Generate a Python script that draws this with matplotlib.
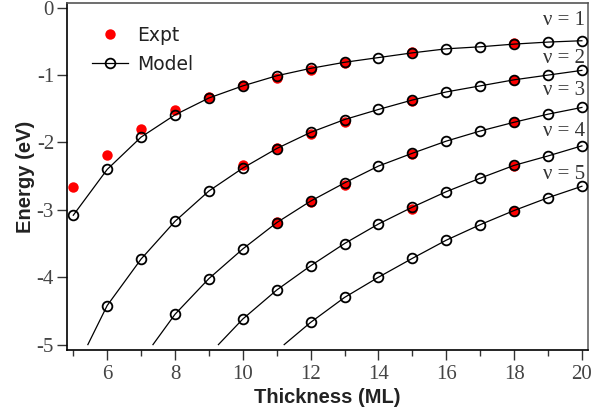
import matplotlib.pyplot as plt
import numpy as np

# thickness in monolayers
thick = np.arange(5, 21)

# model energies (eV) for each subband, first point is where the curve enters at -5 eV
model_x = {
    1: [5, 6, 7, 8, 9, 10, 11, 12, 13, 14, 15, 16, 17, 18, 19, 20],
    2: [5.43, 6, 7, 8, 9, 10, 11, 12, 13, 14, 15, 16, 17, 18, 19, 20],
    3: [7.35, 8, 9, 10, 11, 12, 13, 14, 15, 16, 17, 18, 19, 20],
    4: [9.28, 10, 11, 12, 13, 14, 15, 16, 17, 18, 19, 20],
    5: [11.22, 12, 13, 14, 15, 16, 17, 18, 19, 20],
}
model_e = {
    1: [-3.08, -2.40, -1.92, -1.59, -1.34, -1.16, -1.01, -0.90, -0.81, -0.74, -0.67, -0.61, -0.58, -0.54, -0.51, -0.49],
    2: [-5.0, -4.42, -3.73, -3.17, -2.72, -2.38, -2.09, -1.85, -1.66, -1.51, -1.37, -1.25, -1.16, -1.07, -1.00, -0.93],
    3: [-5.0, -4.55, -4.02, -3.58, -3.19, -2.87, -2.60, -2.35, -2.16, -1.98, -1.83, -1.70, -1.58, -1.48],
    4: [-5.0, -4.62, -4.19, -3.83, -3.50, -3.21, -2.96, -2.73, -2.53, -2.34, -2.20, -2.05],
    5: [-5.0, -4.67, -4.30, -4.00, -3.72, -3.45, -3.22, -3.01, -2.82, -2.65],
}
# which of the line points are actual model points (the -5 eV entry is not)
first_marker = {1: 0, 2: 1, 3: 1, 4: 1, 5: 1}

# experimental energies
expt_x = {
    1: [5, 6, 7, 8, 9, 10, 11, 12, 13, 15, 18],
    2: [10, 11, 12, 13, 15, 18],
    3: [11, 12, 13, 15, 18],
    4: [15, 18],
    5: [18],
}
expt_e = {
    1: [-2.66, -2.18, -1.80, -1.52, -1.33, -1.14, -1.04, -0.92, -0.82, -0.66, -0.53],
    2: [-2.33, -2.08, -1.88, -1.70, -1.39, -1.07],
    3: [-3.18, -2.88, -2.63, -2.17, -1.70],
    4: [-2.98, -2.35],
    5: [-3.01],
}

label_y = {1: -0.19, 2: -0.76, 3: -1.23, 4: -1.83, 5: -2.47}

fig = plt.figure(figsize=(6.11, 4.18), dpi=100)
ax = fig.add_axes([66.5 / 611, 1 - 350 / 418, (588 - 66.5) / 611, (350 - 3) / 418])

serif = "Liberation Serif"
tick_gray = "#444444"

for n in range(1, 6):
    ax.plot(expt_x[n], expt_e[n], "o", color="red", ms=7.5, mec="none", zorder=2)
for n in range(1, 6):
    ax.plot(model_x[n], model_e[n], "-", color="black", lw=0.9, zorder=3)
    k = first_marker[n]
    ax.plot(model_x[n][k:], model_e[n][k:], "o", ms=7, mfc="none", mec="black",
            mew=1.3, zorder=4)
    ax.text(20.1, label_y[n], "\u03bd = %d" % n, ha="right", va="center",
            fontsize=15, family=serif, color="#333333")

# legend
ax.plot([], [], "o", color="red", ms=7.5, mec="none", label="Expt")
ax.plot([], [], "-o", color="black", lw=0.9, ms=7, mfc="none", mew=1.3, label="Model")
handles, labels = ax.get_legend_handles_labels()
ax.legend(handles[-2:], labels[-2:], loc="upper left", bbox_to_anchor=(0.049, 0.935),
          frameon=False, fontsize=13.5, handlelength=1.9, handletextpad=0.5,
          labelspacing=0.55, borderpad=0, borderaxespad=0, labelcolor="#222222")

ax.set_xlim(4.8, 20.18)
ax.set_ylim(-5.08, 0.07)
ax.set_xticks([6, 8, 10, 12, 14, 16, 18, 20])
ax.set_xticks([5, 7, 9, 11, 13, 15, 17, 19], minor=True)
ax.set_yticks([0, -1, -2, -3, -4, -5])
ax.set_yticklabels(["0", "-1", "-2", "-3", "-4", "-5"])

ax.tick_params(axis="both", which="major", direction="out", length=7, width=1,
               labelsize=15, labelcolor=tick_gray, color="#333333")
ax.tick_params(axis="x", which="minor", direction="out", length=4, width=1, color="#333333")
ax.tick_params(axis="x", pad=4)
ax.tick_params(axis="y", pad=2)
for lab in ax.get_xticklabels() + ax.get_yticklabels():
    lab.set_family(serif)

ax.spines["left"].set_color("black")
ax.spines["bottom"].set_color("black")
ax.spines["top"].set_color("#555555")
ax.spines["right"].set_color("#666666")
for s in ax.spines.values():
    s.set_linewidth(1.2)

ax.set_xlabel("Thickness (ML)", fontsize=14.5, fontweight="bold",
              family="Liberation Sans", color="#222222", labelpad=3)
ax.set_ylabel("Energy (eV)", fontsize=14.5, fontweight="bold",
              family="Liberation Sans", color="#222222", labelpad=1)

fig.savefig("out.png", dpi=100)
